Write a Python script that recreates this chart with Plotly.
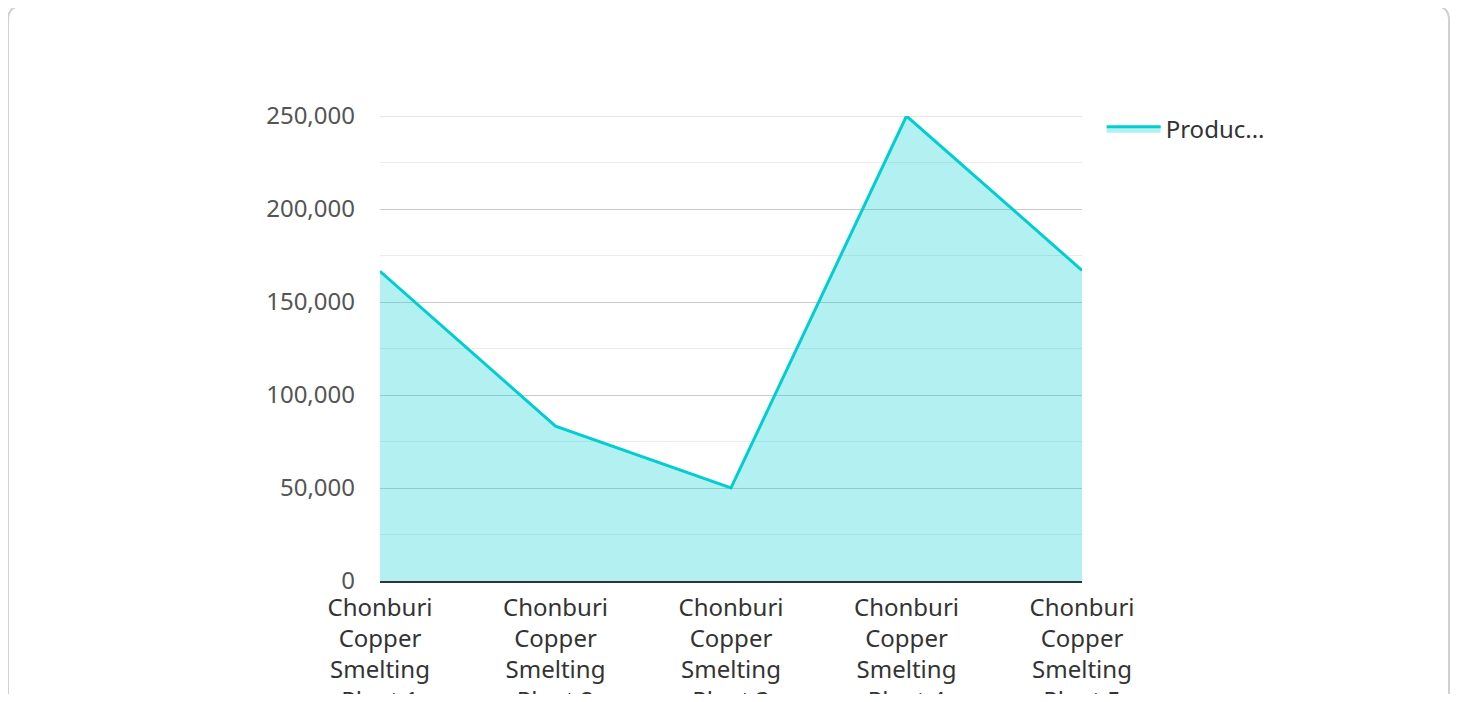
import plotly.graph_objects as go

categories = [
    "Chonburi<br>Copper<br>Smelting<br>Plant 1",
    "Chonburi<br>Copper<br>Smelting<br>Plant 2",
    "Chonburi<br>Copper<br>Smelting<br>Plant 3",
    "Chonburi<br>Copper<br>Smelting<br>Plant 4",
    "Chonburi<br>Copper<br>Smelting<br>Plant 5",
]
production = [166500, 83300, 50000, 250000, 167000]
series_name = "Produc..."
y_ticks = [0, 50000, 100000, 150000, 200000, 250000]
y_tick_text = ["0", "50,000", "100,000", "150,000", "200,000", "250,000"]

# page body has an 8px margin; figure coordinates are screen - 8
OFF = 8
W, H = 1442, 686
L = 380 - OFF
T = 116 - OFF
R = W - (1082 - OFF)
B = H - (581 - OFF)
pw, ph = W - L - R, H - T - B

fig = go.Figure()
fig.add_trace(go.Scatter(
    x=categories, y=production, name=series_name, mode="lines",
    line=dict(color="#00CED1", width=3),
    fill="tozeroy", fillcolor="rgba(0,206,209,0.3)",
))

def P(x, y):
    a = (x - OFF - L) / pw
    b = (H - B - (y - OFF)) / ph
    return f"{a:.5f},{b:.5f}"

# rounded card border (screen pixels)
x0, y0, x1, y1, r = 8, 6, 1449, 720, 14
path = (f"M {P(x0+r, y0)} L {P(x1-r, y0)} Q {P(x1, y0)} {P(x1, y0+r)} "
        f"L {P(x1, y1-r)} Q {P(x1, y1)} {P(x1-r, y1)} L {P(x0+r, y1)} "
        f"Q {P(x0, y1)} {P(x0, y1-r)} L {P(x0, y0+r)} Q {P(x0, y0)} {P(x0+r, y0)} Z")

fig.update_layout(
    width=W, height=H,
    margin=dict(l=L, r=R, t=T, b=B, pad=0, autoexpand=False),
    paper_bgcolor="white", plot_bgcolor="white",
    font=dict(family="Noto Sans", size=24, color="#333"),
    shapes=[
        dict(type="path", path=path, xref="paper", yref="paper",
             line=dict(color="#d0d0d0", width=2), layer="below"),
        dict(type="line", xref="paper", yref="y", x0=0, x1=1,
             y0=y_ticks[-1], y1=y_ticks[-1],
             line=dict(color="#cccccc", width=1), layer="below"),
    ],
    legend=dict(x=1.028, y=1.02, xanchor="left", yanchor="top", itemwidth=54,
                font=dict(size=24, color="#333"), bgcolor="rgba(0,0,0,0)"),
    showlegend=True,
)
fig.update_xaxes(
    type="category", range=[0, 4], showgrid=False, automargin=False,
    showline=True, linecolor="#333", linewidth=2,
    ticks="", tickfont=dict(size=24, color="#333"), tickangle=0,
    ticklabelstandoff=4,
)
fig.update_yaxes(
    range=[0, 250000], tickvals=y_ticks, ticktext=y_tick_text, automargin=False,
    showgrid=True, gridcolor="#cccccc", gridwidth=1,
    minor=dict(dtick=25000, showgrid=True, gridcolor="#ebebeb", gridwidth=1, tick0=0),
    zeroline=False, showline=False, ticks="",
    tickfont=dict(size=24, color="#555"),
    ticklabelstandoff=24,
)

fig.write_html("out.html")
